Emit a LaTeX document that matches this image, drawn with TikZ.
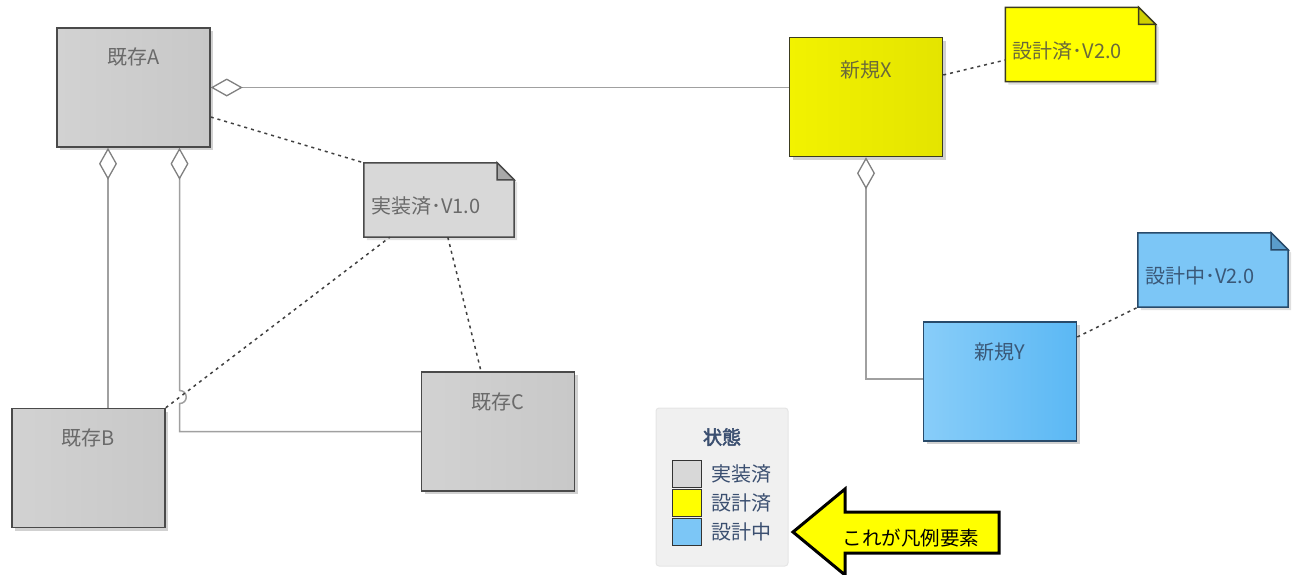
\documentclass[tikz,border=0pt]{standalone}
\usepackage{fontspec}
\setmainfont{Noto Sans CJK JP}
\newfontfamily\titlefont{Noto Sans CJK JP}[FakeBold=2.5]
\usetikzlibrary{arrows.meta,shadows}
\definecolor{conn}{HTML}{A0A0A0}
\definecolor{dotc}{HTML}{404040}
\definecolor{gL}{HTML}{D2D2D2}
\definecolor{gM}{HTML}{DEDEDE}
\definecolor{gR}{HTML}{C8C8C8}
\definecolor{yL}{HTML}{F2F200}
\definecolor{yM}{HTML}{FFFF10}
\definecolor{yR}{HTML}{E4E400}
\definecolor{bL}{HTML}{88CDF9}
\definecolor{bM}{HTML}{84CCF9}
\definecolor{bR}{HTML}{5BB8F4}
\definecolor{gtxt}{HTML}{6A6A6A}
\definecolor{ytxt}{HTML}{6A6A3A}
\definecolor{btxt}{HTML}{3A5878}
\definecolor{ltxt}{HTML}{3B4F70}
\definecolor{noteg}{HTML}{D8D8D8}
\definecolor{notey}{HTML}{FFFF00}
\definecolor{noteb}{HTML}{7CC6F6}
\definecolor{foldg}{HTML}{A8A8A8}
\definecolor{foldy}{HTML}{CFCF00}
\definecolor{foldb}{HTML}{5A9CCB}
\definecolor{bdg}{HTML}{4A4A4A}
\definecolor{bdy}{HTML}{3C3C20}
\definecolor{bdb}{HTML}{284A6A}
\newcommand\mynote[7]{% name, center, fill, fold, border, textcolor, text
  \node[notebody] (#1) at (#2) {};
  \fill[black!25,opacity=0.5] ([xshift=3pt,yshift=-3pt]#1.north west) -- ([xshift=-14pt,yshift=-3pt]#1.north east) -- ([xshift=3pt,yshift=-20pt]#1.north east) -- ([xshift=3pt,yshift=-3pt]#1.south east) -- ([xshift=3pt,yshift=-3pt]#1.south west) -- cycle;
  \filldraw[fill=#3,draw=#5,line width=1.5pt,line join=miter] (#1.north west) -- ([xshift=-17pt]#1.north east) -- ([yshift=-17pt]#1.north east) -- (#1.south east) -- (#1.south west) -- cycle;
  \filldraw[fill=#4,draw=#5,line width=1.5pt,line join=miter] ([xshift=-17pt]#1.north east) -- ([xshift=-17pt,yshift=-17pt]#1.north east) -- ([yshift=-17pt]#1.north east) -- cycle;
  \node[lbl,text=#6,anchor=west] (#1t) at ([xshift=7pt,yshift=-6pt]#1.west) {#7};
}
\begin{document}
\begin{tikzpicture}[x=1pt,y=-1pt,
  lbl/.style={font=\fontsize{20}{24}\selectfont,inner sep=0pt},
  box/.style={rectangle,line width=1.5pt,minimum width=153pt,minimum height=119pt,inner sep=0pt,
    drop shadow={shadow xshift=3pt,shadow yshift=-3pt,opacity=0.3,fill=black!60}},
  gbox/.style={box,draw=bdg,left color=gL,middle color=gM,right color=gR},
  ybox/.style={box,draw=bdy,left color=yL,middle color=yM,right color=yR},
  bbox/.style={box,draw=bdb,left color=bL,middle color=bM,right color=bR},
  notebody/.style={rectangle,minimum width=150pt,minimum height=74pt,inner sep=0pt,draw=none},
  agg/.style={draw=conn,line width=1.5pt,{Diamond[open,fill=white,length=32pt,width=18pt,line width=1.3pt,color=black!50]}-},
  dotl/.style={draw=dotc,line width=1.5pt,dash pattern=on 3pt off 4pt},
  swatch/.style={rectangle,draw=black!80,line width=1.5pt,minimum width=29pt,minimum height=27pt,inner sep=0pt}
]
\useasboundingbox (0,0) rectangle (1297,574);

% boxes
\node[gbox] (A) at (133.5,87.5) {};
\node[lbl,text=gtxt] (Al) at (133.5,57) {既存A};
\node[gbox] (B) at (88.5,468) {};
\node[lbl,text=gtxt] (Bl) at (88.5,438) {既存B};
\node[gbox] (C) at (498,431.5) {};
\node[lbl,text=gtxt] (Cl) at (498,402) {既存C};
\node[ybox] (X) at (866,97) {};
\node[lbl,text=ytxt] (Xl) at (866,70) {新規X};
\node[bbox] (Y) at (1000,381.5) {};
\node[lbl,text=btxt] (Yl) at (1000,352) {新規Y};

% notes
\mynote{n1}{439,200}{noteg}{foldg}{bdg}{gtxt}{実装済･V1.0}
\mynote{n2}{1080.5,44.5}{notey}{foldy}{bdy}{ytxt}{設計済･V2.0}
\mynote{n3}{1213,270}{noteb}{foldb}{bdb}{btxt}{設計中･V2.0}

% aggregation connectors
\draw[agg] (A.east) -- (X.west |- A.east);
\draw[agg] ([xshift=-25.5pt]A.south) coordinate (ab) -- (ab |- B.north);
\draw[agg] ([xshift=46pt]A.south) coordinate (ac) -- (179.5,390.5) .. controls (188.5,390.5) and (188.5,403.5) .. (179.5,403.5) -- (ac |- C.west) -- (C.west);
\draw[agg] (X.south) -- (X.south |- 0,379) -- (Y.west |- 0,379);

% note links
\draw[dotl] ([yshift=-29.5pt]A.east) -- (n1.north west);
\draw[dotl] (B.north east) -- ([xshift=26pt]n1.south west);
\draw[dotl] ([xshift=84pt]n1.south west) -- ([xshift=-17pt]C.north);
\draw[dotl] ([yshift=22pt]X.east) -- ([yshift=-15.5pt]n2.west);
\draw[dotl] ([yshift=44.5pt]Y.east) -- (n3.south west);

% legend
\node[rectangle,rounded corners=3pt,fill=black!6,draw=black!10,line width=1pt,minimum width=132pt,minimum height=158pt] (leg) at (722,487) {};
\node[font=\fontsize{19}{22}\selectfont\titlefont,text=ltxt,inner sep=0pt] (legt) at (722,437) {状態};
\node[swatch,fill=noteg] (s1) at (687,474) {};
\node[swatch,fill=notey] (s2) at (687,503) {};
\node[swatch,fill=noteb] (s3) at (687,532) {};
\node[lbl,text=ltxt,anchor=west] (t1) at (711,474) {実装済};
\node[lbl,text=ltxt,anchor=west] (t2) at (711,503) {設計済};
\node[lbl,text=ltxt,anchor=west] (t3) at (711,532) {設計中};

% big arrow
\filldraw[fill=notey,draw=black,line width=3pt,line join=miter]
  (793,532) -- (845,489) -- (845,512) -- (999,512) -- (999,553) -- (845,553) -- (845,575) -- cycle;
\node[font=\fontsize{19.5}{23}\selectfont,text=black,inner sep=0pt] (arrt) at (911,538) {これが凡例要素};
\end{tikzpicture}
\end{document}
